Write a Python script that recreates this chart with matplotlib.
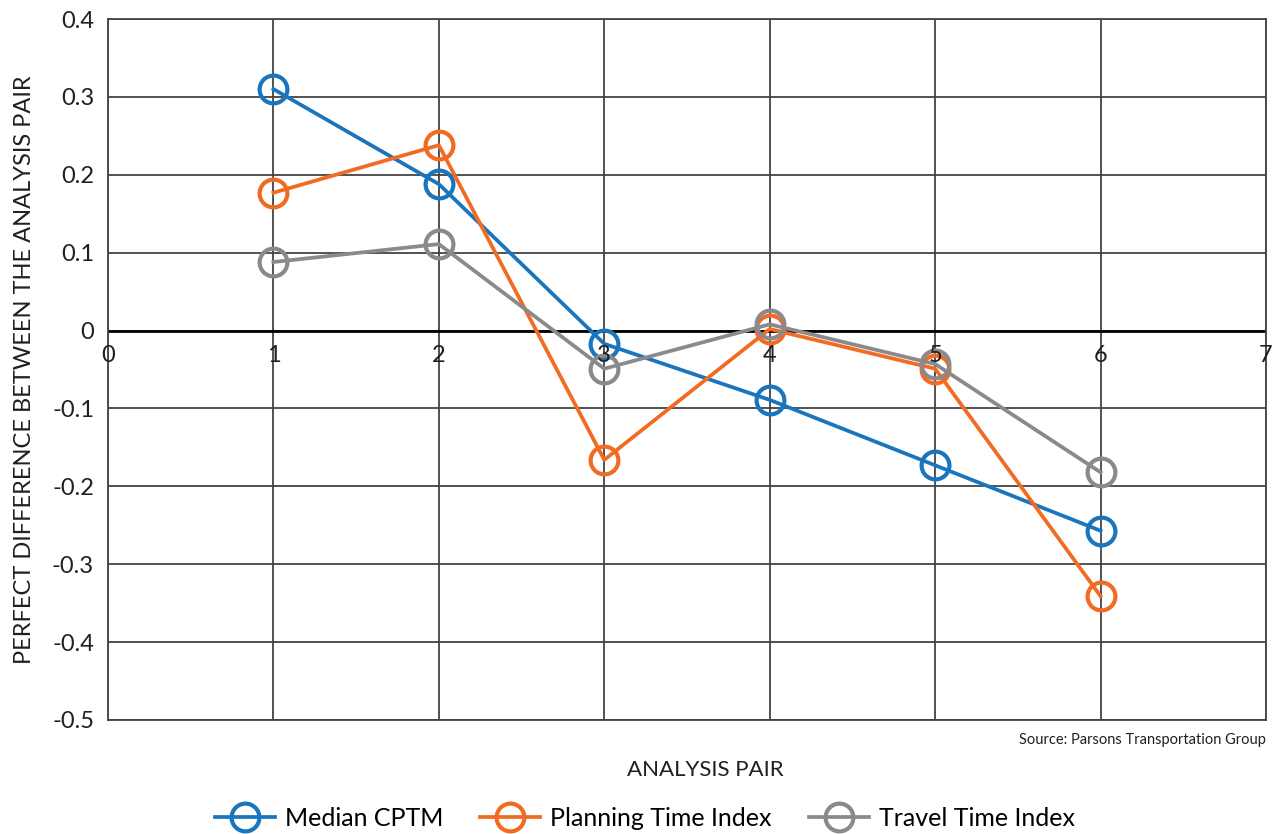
import matplotlib.pyplot as plt

plt.rcParams['font.family'] = ['Lato', 'DejaVu Sans']

# Datos
pares = [1, 2, 3, 4, 5, 6]
median_cptm = [0.310, 0.188, -0.017, -0.089, -0.173, -0.257]
planning_ti = [0.177, 0.238, -0.166, 0.002, -0.049, -0.341]
travel_ti = [0.088, 0.111, -0.049, 0.008, -0.043, -0.182]
xticks = [0, 1, 2, 3, 4, 5, 6, 7]
yticks = [-0.5, -0.4, -0.3, -0.2, -0.1, 0, 0.1, 0.2, 0.3, 0.4]
ytick_labels = ['-0.5', '-0.4', '-0.3', '-0.2', '-0.1', '0', '0.1', '0.2', '0.3', '0.4']

fig = plt.figure(figsize=(12.73, 8.34), dpi=100)
ax = fig.add_axes([108 / 1273, 1 - 720 / 834, (1266 - 108) / 1273, (720 - 19) / 834])

estilo = dict(marker='o', markersize=20, markerfacecolor='none', markeredgewidth=3, linewidth=2.7)
ax.plot(pares, median_cptm, color='#1a75bc', label='Median CPTM', **estilo)
ax.plot(pares, planning_ti, color='#f26b22', label='Planning Time Index', **estilo)
ax.plot(pares, travel_ti, color='#8a8a8c', label='Travel Time Index', **estilo)

ax.set_xlim(0, 7)
ax.set_ylim(-0.5, 0.4)
ax.set_xticks(xticks)
ax.set_yticks(yticks)
ax.set_yticklabels(ytick_labels, fontsize=17, color='#231f20')
ax.set_xticklabels([])
ax.tick_params(length=0, pad=10)
ax.grid(True, color='#444444', linewidth=1.3)
ax.set_axisbelow(True)
for s in ax.spines.values():
    s.set_color('#444444')
    s.set_linewidth(1.3)
ax.axhline(0, color='#000000', linewidth=2, zorder=1)

# Etiquetas del eje x justo debajo de la linea cero
for x in xticks:
    ax.text(x, -0.018, str(x), ha='center', va='top', fontsize=17, color='#231f20')

ax.set_ylabel('PERFECT DIFFERENCE BETWEEN THE ANALYSIS PAIR', fontsize=17, color='#231f20', labelpad=12)

fig.text(1266 / 1273, 1 - 740 / 834, 'Source: Parsons Transportation Group', ha='right', va='center',
         fontsize=10.5, color='#231f20')
fig.text(705 / 1273, 1 - 770 / 834, 'ANALYSIS PAIR', ha='center', va='center', fontsize=16, color='#231f20')

fig.legend(loc='center', bbox_to_anchor=(645 / 1273, 1 - 818 / 834), ncol=3, frameon=False,
           fontsize=18, handlelength=2.4, columnspacing=1.5, handletextpad=0.4)

fig.savefig('out.png', dpi=100)
